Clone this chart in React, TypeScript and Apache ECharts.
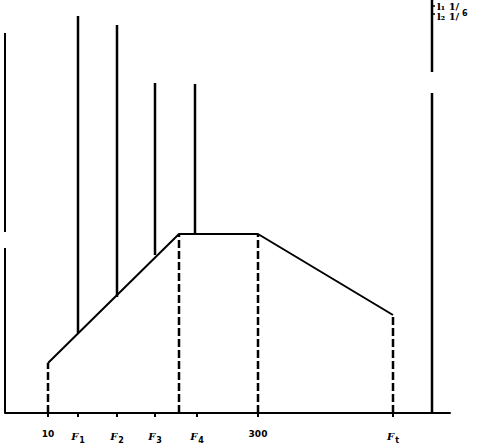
import React, { useEffect, useRef } from "react";
import * as echarts from "echarts";

// Abstract horizontal / vertical units of the schematic (axis origin at 0,0)
const tickValues = [43, 73, 112, 150, 192, 253, 388];
const tickLabels = ["10", "F|1", "F|2", "F|3", "F|4", "300", "F|t"];
const upperTicks = [43, 174, 253, 388, 427];

// Trapezoidal profile
const profileX = [43, 174, 253, 388];
const profileY = [50, 179, 179, 98];

// Vertical spikes (solid) standing on the profile
const spikeX = [73, 112, 150, 190];
const spikeBase = [80, 116, 158, 179];
const spikeTop = [397, 388, 330, 329];

// Left and right vertical bars (with gaps)
const leftBarX = 0;
const leftBarSegments = [[0, 165], [181, 380]];
const rightBarX = 427;
const rightBarSegments = [[0, 320], [341, 413]];

const legendLines = ["l₁ 1/", "l₂ 1/"];
const legendExtra = "6";

function seg(x1: number, y1: number, x2: number, y2: number, dashed = false, width = 2) {
  return {
    type: "line",
    data: [[x1, y1], [x2, y2]],
    symbol: "none",
    clip: false,
    silent: true,
    lineStyle: { color: "#000", width, type: dashed ? [8, 3] : "solid" },
  };
}

export default function App() {
  const ref = useRef<HTMLDivElement>(null);
  useEffect(() => {
    if (!ref.current) return;
    const chart = echarts.init(ref.current, null, { renderer: "svg" });
    const series: any[] = [];
    series.push({
      type: "line",
      data: profileX.map((x, i) => [x, profileY[i]]),
      symbol: "none",
      clip: false,
      lineStyle: { color: "#000", width: 2 },
    });
    profileX.forEach((x, i) => series.push(seg(x, 0, x, profileY[i], true, 2.5)));
    spikeX.forEach((x, i) => series.push(seg(x, spikeBase[i], x, spikeTop[i], false, 2.5)));
    leftBarSegments.forEach(([a, b]) => series.push(seg(leftBarX, a, leftBarX, b, false, 2)));
    rightBarSegments.forEach(([a, b]) => series.push(seg(rightBarX, a, rightBarX, b, false, 2.5)));
    upperTicks.forEach((x) => series.push(seg(x, 0, x, 4, false, 2)));
    // small marks on right bar near legend
    series.push(seg(rightBarX, 407, rightBarX + 3, 407, false, 1.5));
    series.push(seg(rightBarX, 399, rightBarX + 3, 399, false, 1.5));

    const labelMap: Record<number, string> = {};
    tickValues.forEach((v, i) => {
      const t = tickLabels[i];
      labelMap[v] = t.includes("|") ? `{f|${t.split("|")[0]}}{s|${t.split("|")[1]}}` : `{n|${t}}`;
    });

    chart.setOption({
      animation: false,
      grid: { left: 5, right: 38, top: 0, bottom: 34 },
      xAxis: {
        type: "value",
        min: 0,
        max: 445,
        splitLine: { show: false },
        axisLine: { lineStyle: { color: "#000", width: 2 } },
        axisTick: {
          customValues: tickValues,
          length: 4,
          lineStyle: { color: "#000", width: 2 },
        },
        axisLabel: {
          customValues: tickValues,
          margin: 16,
          formatter: (v: number) => labelMap[v] ?? "",
          rich: {
            n: { fontFamily: "DejaVu Sans", fontWeight: "bold", fontSize: 9, color: "#000" },
            f: { fontFamily: "DejaVu Serif", fontStyle: "italic", fontWeight: "bold", fontSize: 10, color: "#000" },
            s: { fontFamily: "DejaVu Sans", fontWeight: "bold", fontSize: 8, color: "#000", padding: [7, 0, 0, 1] },
          },
        },
      },
      yAxis: {
        type: "value",
        min: 0,
        max: 413,
        show: false,
      },
      graphic: [
        {
          type: "text",
          left: 437,
          top: 1,
          style: { text: legendLines[0], font: "bold 10px 'DejaVu Serif'", fill: "#000" },
        },
        {
          type: "text",
          left: 437,
          top: 11,
          style: { text: legendLines[1], font: "bold 10px 'DejaVu Serif'", fill: "#000" },
        },
        {
          type: "text",
          left: 462,
          top: 9,
          style: { text: legendExtra, font: "bold 8px 'DejaVu Sans'", fill: "#000" },
        },
      ],
      series,
    });
    return () => chart.dispose();
  }, []);
  return (
    <div
      ref={ref}
      style={{ position: "fixed", left: 0, top: 0, width: 488, height: 447, background: "#fff" }}
    />
  );
}
